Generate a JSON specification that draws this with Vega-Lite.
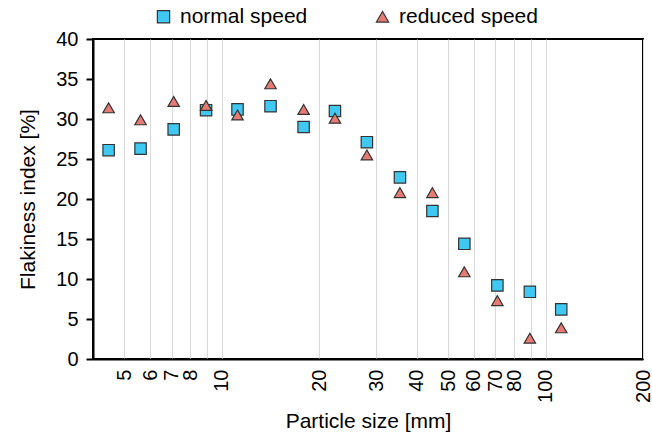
{
  "$schema": "https://vega.github.io/schema/vega-lite/v6.json",
  "width": 550,
  "height": 320,
  "autosize": "none",
  "padding": {"left": 93, "top": 39, "right": 9, "bottom": 76},
  "background": "white",
  "config": {
    "font": "Liberation Sans",
    "view": {"stroke": "#000", "strokeWidth": 2},
    "axis": {"labelColor": "#000", "titleColor": "#000", "labelFontSize": 20, "titleFontSize": 21, "titleFontWeight": "normal"}
  },
  "data": {
    "values": [
      {"size": 4.47, "speed": "normal speed", "fi": 26.1},
      {"size": 5.61, "speed": "normal speed", "fi": 26.3},
      {"size": 7.10, "speed": "normal speed", "fi": 28.7},
      {"size": 8.94, "speed": "normal speed", "fi": 31.1},
      {"size": 11.18, "speed": "normal speed", "fi": 31.2},
      {"size": 14.14, "speed": "normal speed", "fi": 31.6},
      {"size": 17.89, "speed": "normal speed", "fi": 29.0},
      {"size": 22.36, "speed": "normal speed", "fi": 31.0},
      {"size": 28.06, "speed": "normal speed", "fi": 27.1},
      {"size": 35.5, "speed": "normal speed", "fi": 22.7},
      {"size": 44.72, "speed": "normal speed", "fi": 18.5},
      {"size": 56.12, "speed": "normal speed", "fi": 14.4},
      {"size": 70.99, "speed": "normal speed", "fi": 9.2},
      {"size": 89.44, "speed": "normal speed", "fi": 8.4},
      {"size": 111.8, "speed": "normal speed", "fi": 6.2},
      {"size": 4.47, "speed": "reduced speed", "fi": 31.4},
      {"size": 5.61, "speed": "reduced speed", "fi": 29.9},
      {"size": 7.10, "speed": "reduced speed", "fi": 32.2},
      {"size": 8.94, "speed": "reduced speed", "fi": 31.7},
      {"size": 11.18, "speed": "reduced speed", "fi": 30.5},
      {"size": 14.14, "speed": "reduced speed", "fi": 34.4},
      {"size": 17.89, "speed": "reduced speed", "fi": 31.2},
      {"size": 22.36, "speed": "reduced speed", "fi": 30.1},
      {"size": 28.06, "speed": "reduced speed", "fi": 25.5},
      {"size": 35.5, "speed": "reduced speed", "fi": 20.8},
      {"size": 44.72, "speed": "reduced speed", "fi": 20.8},
      {"size": 56.12, "speed": "reduced speed", "fi": 10.9},
      {"size": 70.99, "speed": "reduced speed", "fi": 7.3},
      {"size": 89.44, "speed": "reduced speed", "fi": 2.6},
      {"size": 111.8, "speed": "reduced speed", "fi": 3.9}
    ]
  },
  "mark": {"type": "point", "filled": true, "size": 130, "stroke": "#333", "strokeWidth": 1.2, "opacity": 1},
  "encoding": {
    "x": {
      "field": "size", "type": "quantitative",
      "scale": {"type": "log", "domain": [4, 200], "nice": false},
      "axis": {
        "title": "Particle size [mm]",
        "values": [5, 6, 7, 8, 9, 10, 20, 30, 40, 50, 60, 70, 80, 90, 100, 200],
        "labelExpr": "datum.value == 9 || datum.value == 90 ? '' : datum.label",
        "labelOverlap": false,
        "labelAngle": -90,
        "labelPadding": 10,
        "grid": true, "gridColor": "#d9d9d9", "gridWidth": 1,
        "ticks": false,
        "domainColor": "#000", "domainWidth": 2,
        "titlePadding": 8
      }
    },
    "y": {
      "field": "fi", "type": "quantitative",
      "scale": {"domain": [0, 40], "nice": false},
      "axis": {
        "title": "Flakiness index [%]",
        "values": [0, 5, 10, 15, 20, 25, 30, 35, 40],
        "grid": false,
        "domainColor": "#000", "domainWidth": 2,
        "tickColor": "#000", "tickWidth": 2, "tickSize": 7,
        "labelPadding": 8,
        "titlePadding": 17
      }
    },
    "color": {
      "field": "speed", "type": "nominal",
      "scale": {"domain": ["normal speed", "reduced speed"], "range": ["#3ec8f2", "#e67b73"]},
      "legend": {
        "title": null, "orient": "none", "direction": "horizontal",
        "legendX": 60, "legendY": -33,
        "labelFontSize": 21, "labelColor": "#000", "symbolSize": 150,
        "symbolStrokeColor": "#333", "symbolStrokeWidth": 1.2,
        "columnPadding": 64, "labelOffset": 6
      }
    },
    "shape": {
      "field": "speed", "type": "nominal",
      "scale": {"domain": ["normal speed", "reduced speed"], "range": ["square", "triangle-up"]},
      "legend": null
    }
  }
}
